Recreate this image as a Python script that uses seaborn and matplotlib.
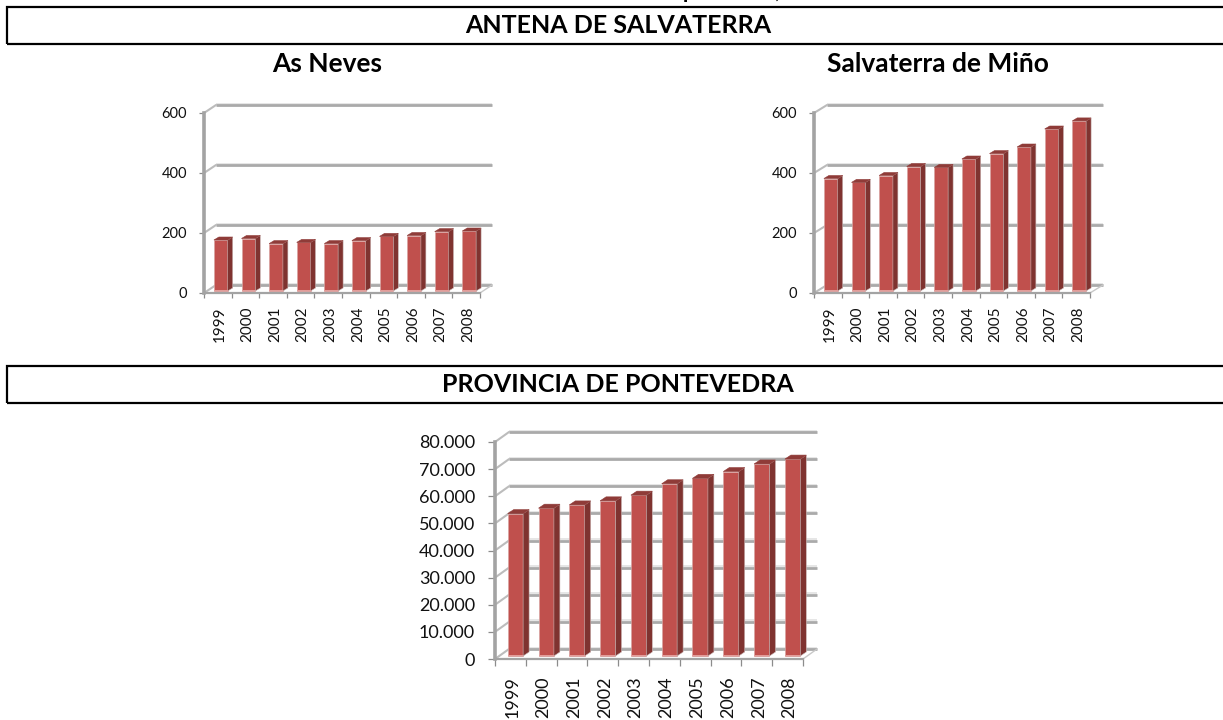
import matplotlib
matplotlib.use("Agg")
import matplotlib.pyplot as plt
import matplotlib.transforms as mtrans
from matplotlib.patches import Polygon, Rectangle
import seaborn as sns

years = ["1999", "2000", "2001", "2002", "2003", "2004", "2005", "2006", "2007", "2008"]
as_neves = [170, 175, 158, 162, 158, 168, 182, 185, 198, 200]
salvaterra = [375, 362, 385, 415, 412, 440, 458, 480, 540, 567]
pontevedra = [52500, 54500, 55700, 57200, 59300, 63500, 65500, 68000, 70800, 72600]
small_ticks = [0, 200, 400, 600]
big_ticks = [0, 10000, 20000, 30000, 40000, 50000, 60000, 70000, 80000]

W, H = 1223, 720
sns.set_theme(style="white")
plt.rcParams["font.family"] = ["Lato", "DejaVu Sans"]

fig = plt.figure(figsize=(W / 100, H / 100), dpi=100)


def px_text(x, y, s, size, **kw):
    fig.text(x / W, 1 - y / H, s, fontsize=size, fontweight="bold", color="black", **kw)


def header(top, bottom, s):
    # box runs off the right edge of the page
    fig.add_artist(Rectangle((6.5 / W, 1 - bottom / H), 1.1, (bottom - top) / H, fill=False,
                             ec="black", lw=1.6, transform=fig.transFigure))
    px_text(618, (top + bottom) / 2, s, 18, ha="center", va="center")


def chart(values, ticks, left, right, y0, ytop, back, font, pad_x, pad_y, tick_len, front, bdepth):
    ax = fig.add_axes([left / W, 1 - y0 / H, (right - left) / W, (y0 - ytop) / H])
    ax.patch.set_alpha(0)
    sns.barplot(x=years, y=values, color="#C0504D", saturation=1, width=0.5, ax=ax, zorder=3)
    ax.set_xlim(-0.5, 9.5)
    ax.set_ylim(0, ticks[-1])
    sx = (right - left) / 10
    sy = (y0 - ytop) / ticks[-1]
    bx, by = back[0] / sx, back[1] / sy

    # back wall lines and the little slanted stubs
    for t in ticks:
        ax.plot([-0.5 + bx, 9.5 + bx], [t + by * 1.15, t + by * 1.15], color="#e2e2e2", lw=1.2,
                clip_on=False, zorder=1, solid_capstyle="butt")
        ax.plot([-0.5 + bx, 9.5 + bx], [t + by, t + by], color="#aaaaaa", lw=2.0,
                clip_on=False, zorder=2, solid_capstyle="butt")
        ax.plot([-0.5, -0.5 + bx], [t, t + by], color="#bcbcbc", lw=1.5, clip_on=False, zorder=2)
    ax.plot([9.5, 9.5 + bx], [0, by], color="#c8c8c8", lw=1.0, clip_on=False, zorder=2)

    # bars sit a bit behind the front edge, with side and top faces
    tr = mtrans.offset_copy(ax.transData, fig, x=front[0], y=front[1], units="dots")
    dx, dy = bdepth[0] / sx, bdepth[1] / sy
    for p in list(ax.patches):
        x, w, h = p.get_x(), p.get_width(), p.get_height()
        p.set_transform(tr)
        p.set_clip_on(False)
        p.set_edgecolor("#d9a3a1")
        p.set_linewidth(0.5)
        ax.add_patch(Polygon([(x + w, 0), (x + w + dx, dy), (x + w + dx, h + dy), (x + w, h)],
                             closed=True, fc="#7F3330", ec="#c9b5b4", lw=0.4, transform=tr,
                             clip_on=False, zorder=3))
        ax.add_patch(Polygon([(x, h), (x + dx, h + dy), (x + w + dx, h + dy), (x + w, h)],
                             closed=True, fc="#8F3B38", ec="#8F3B38", lw=0.4, transform=tr,
                             clip_on=False, zorder=4))
        ax.add_patch(Rectangle((x, 0), w, 1.5 / sy, fc="#E39C99", ec="none", transform=tr,
                               clip_on=False, zorder=4))

    sns.despine(ax=ax, top=True, right=True)
    ax.spines["left"].set_color("#a3a3a3")
    ax.spines["left"].set_linewidth(2.6)
    ax.spines["bottom"].set_color("#a3a3a3")
    ax.spines["bottom"].set_linewidth(1.6)
    ax.set_yticks(ticks)
    ax.set_yticklabels([f"{t:,}".replace(",", ".") for t in ticks], fontsize=font[1], color="#111111")
    ax.set_xticks(range(10))
    ax.set_xticklabels(years, rotation=90, fontsize=font[0], color="#111111")
    ax.set_xticks([i - 0.5 for i in range(11)], minor=True)
    ax.tick_params(axis="x", which="major", length=0, pad=pad_x)
    ax.tick_params(axis="x", which="minor", length=tick_len, width=0.9, color="#8c8c8c", bottom=True)
    ax.tick_params(axis="y", length=tick_len, width=0.9, color="#8c8c8c", pad=pad_y, left=True)
    # labels sit under the bars, not under the category centres
    nudge = mtrans.ScaledTranslation(2 / 100, 0, fig.dpi_scale_trans)
    for lab in ax.get_xticklabels():
        lab.set_transform(lab.get_transform() + nudge)
    ax.set_xlabel("")
    ax.set_ylabel("")
    return ax


# title cut off by the top of the page, only the descenders show
px_text(683, -2, "población,", 15.5, ha="left", va="baseline")

header(7, 44, "ANTENA DE SALVATERRA")
px_text(327, 64, "As Neves", 19, ha="center", va="center")
px_text(938, 64, "Salvaterra de Miño", 19, ha="center", va="center")
chart(as_neves, small_ticks, 204, 480, 293, 113, (12, 8), (11, 10.5), 10, 8.6, 3.6, (3, 2), (5, 3))
chart(salvaterra, small_ticks, 814, 1090, 293, 113, (13, 8), (11, 10.5), 10, 8.6, 3.6, (3, 2), (5, 3))

header(366, 403, "PROVINCIA DE PONTEVEDRA")
chart(pontevedra, big_ticks, 495, 803, 659, 442, (14, 10), (13, 13), 12.5, 9.4, 5, (5, 3), (6, 4))

fig.savefig("out.png", dpi=100)
